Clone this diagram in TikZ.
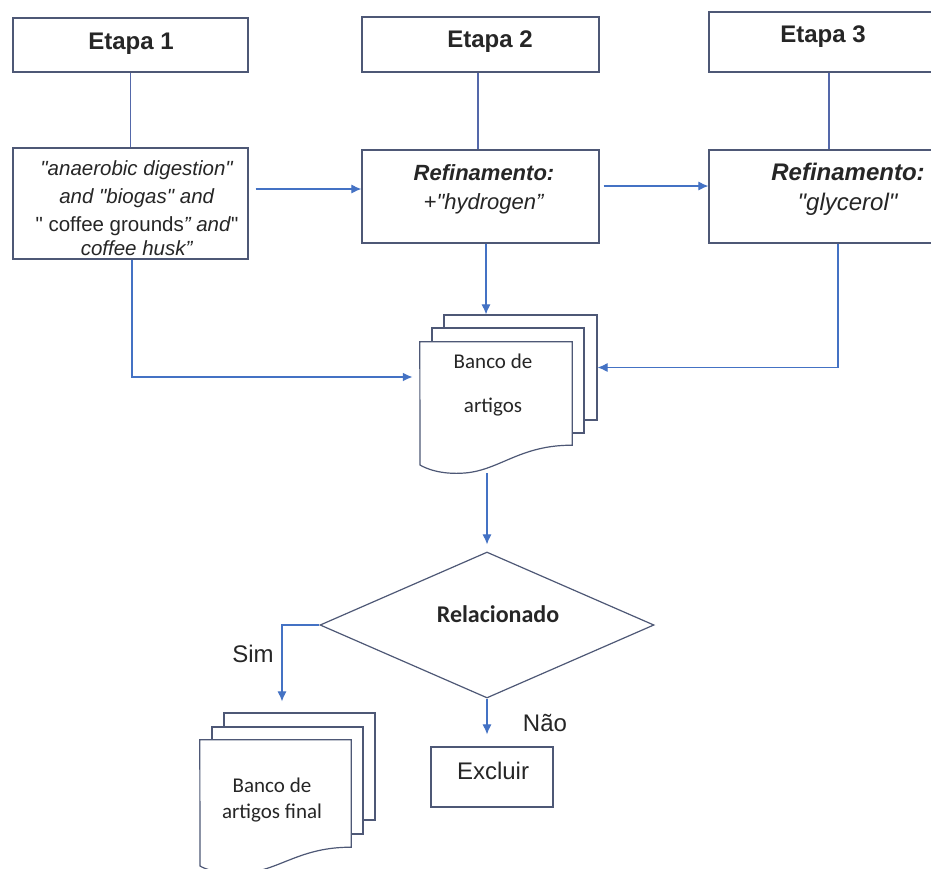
\documentclass[tikz,border=0pt]{standalone}
\usepackage{fontspec}
\setmainfont{Liberation Sans}[Ligatures=TeXOff]
\newfontfamily\calib{Carlito}
\usetikzlibrary{arrows.meta,shapes.geometric,calc}
\definecolor{bordc}{RGB}{78,88,118}
\definecolor{arrc}{RGB}{68,114,196}
\definecolor{stemc}{RGB}{84,104,170}
\newcommand{\sq}{\symbol{34}}
\begin{document}
\begin{tikzpicture}[x=1pt,y=-1pt,
  box/.style={draw=bordc,line width=1.2pt,fill=white,inner sep=0pt,rectangle},
  ghost/.style={inner sep=0pt,rectangle},
  txt/.style={inner sep=0pt,align=center,text=black!85},
  arr/.style={draw=arrc,line width=1.1pt,-{Latex[length=10pt,width=9pt]}},
  stem/.style={draw=stemc,line width=1.1pt}]
\useasboundingbox (0,0) rectangle (931,868);
\clip (0,0) rectangle (931,868);
\fill[white] (0,0) rectangle (931,868);

% top row
\node[box,minimum width=235pt,minimum height=54pt] (e1) at (130.5,45) {};
\node[box,minimum width=237pt,minimum height=55pt] (e2) at (480.5,44.5) {};
\node[box,minimum width=228pt,minimum height=60pt] (e3) at (823,42) {};
\node[txt,font=\fontsize{24}{28}\selectfont\bfseries] (e1t) at (131,44) {Etapa 1};
\node[txt,font=\fontsize{24}{28}\selectfont\bfseries] (e2t) at (490,42) {Etapa 2};
\node[txt,font=\fontsize{24}{28}\selectfont\bfseries] (e3t) at (823,37) {Etapa 3};

% query boxes
\node[box,minimum width=235pt,minimum height=111pt] (q1) at (130.5,203.5) {};
\node[box,minimum width=237pt,minimum height=93pt] (q2) at (480.5,196.5) {};
\node[box,minimum width=278pt,minimum height=93pt] (q3) at (848,196.5) {};
\node[txt,font=\fontsize{20.5}{28}\selectfont] (q1t) at (137,208)
  {\textit{\sq anaerobic digestion\sq}\\ \textit{and \sq biogas\sq\ and}\\ \sq\ coffee grounds\textit{” and}\sq\\[-4pt] \textit{coffee husk”}};
\node[txt,font=\fontsize{22}{29}\selectfont] (q2t) at (484,189)
  {\textbf{\textit{Refinamento:}}\\ \textit{+\sq hydrogen”}};
\node[txt,font=\fontsize{24}{30}\selectfont] (q3t) at (848,189)
  {\textbf{\textit{Refinamento:}}\\ \textit{\sq glycerol\sq}};

% stems
\draw[stem] (e1.south) -- (q1.north);
\draw[stem] ([xshift=-2.5pt]e2.south) -- ([xshift=-2.5pt]q2.north);
\draw[stem,line width=2pt] ([xshift=6pt]e3.south) -- ([xshift=-19pt]q3.north);

% document stack: Banco de artigos
\node[box,minimum width=153pt,minimum height=105pt] (bk3) at (520.5,367.5) {};
\node[box,minimum width=152pt,minimum height=105pt] (bk2) at (508,380.5) {};
\node[ghost,minimum width=152pt,minimum height=103pt] (banco) at (496,393.5) {};
\draw[draw=bordc,line width=1.2pt,fill=white] (banco.north west) -- (banco.north east) -- (banco.south east)
  .. controls (520,445) and (500,470) .. (465,473) coordinate (bancoB)
  .. controls (440,475) and (425,468) .. (420,465) -- cycle;
\node[txt,font=\calib\fontsize{21}{44}\selectfont] (bancot) at (493,385) {Banco de\\artigos};

% connectors to banco
\draw[arr] ([xshift=7pt,yshift=14.5pt]q1.east) -- ([yshift=14.5pt]q1.east -| q2.west);
\draw[arr] ([xshift=4pt,yshift=10.5pt]q2.east) -- ([yshift=10.5pt]q2.east -| q3.west);
\draw[arr] ([xshift=5.5pt]q2.south) -- ([xshift=5.5pt]q2.south |- bk3.north);
\draw[arr] ([xshift=-10pt]q3.south) |- (bk3.east);
\draw[arr,line width=2pt,shorten >=7pt] ([xshift=1.5pt]q1.south) |- ([yshift=16.5pt]banco.west);

% decision
\node[diamond,draw=bordc,line width=1.2pt,fill=white,inner sep=0pt,minimum width=334pt,minimum height=146pt] (rel) at (487,625) {};
\node[txt,font=\calib\fontsize{24}{28}\selectfont\bfseries] (relt) at (498,614) {Relacionado};
\draw[arr,shorten >=7pt] (bancoB -| rel.north) -- (rel.north);

% final document stack
\node[box,minimum width=151pt,minimum height=107pt] (fin3) at (299.5,766.5) {};
\node[box,minimum width=151pt,minimum height=107pt] (fin2) at (287.5,780.5) {};
\node[ghost,minimum width=151pt,minimum height=107pt] (fin) at (275.5,793.5) {};
\draw[draw=bordc,line width=1.2pt,fill=white] (fin.north west) -- (fin.north east) -- (fin.south east)
  .. controls (300,847) and (280,870) .. (245,873)
  .. controls (220,875) and (205,869) .. (200,866) -- cycle;
\node[txt,font=\calib\fontsize{21}{26}\selectfont] (fint) at (272,800) {Banco de\\artigos final};

% Excluir
\node[box,minimum width=122pt,minimum height=60pt] (excl) at (492,777) {};
\node[txt,font=\fontsize{24}{28}\selectfont] (exclt) at (493,771) {Excluir};

% decision outputs
\draw[arr,shorten >=11pt] (rel.west) -| ([xshift=-17.5pt]fin3.north);
\draw[arr,shorten >=12pt] (rel.south) -- (rel.south |- excl.north);
\node[txt,font=\fontsize{24}{28}\selectfont] (sim) at (253,654) {Sim};
\node[txt,font=\fontsize{24}{28}\selectfont] (nao) at (545,723) {Não};
\end{tikzpicture}
\end{document}
